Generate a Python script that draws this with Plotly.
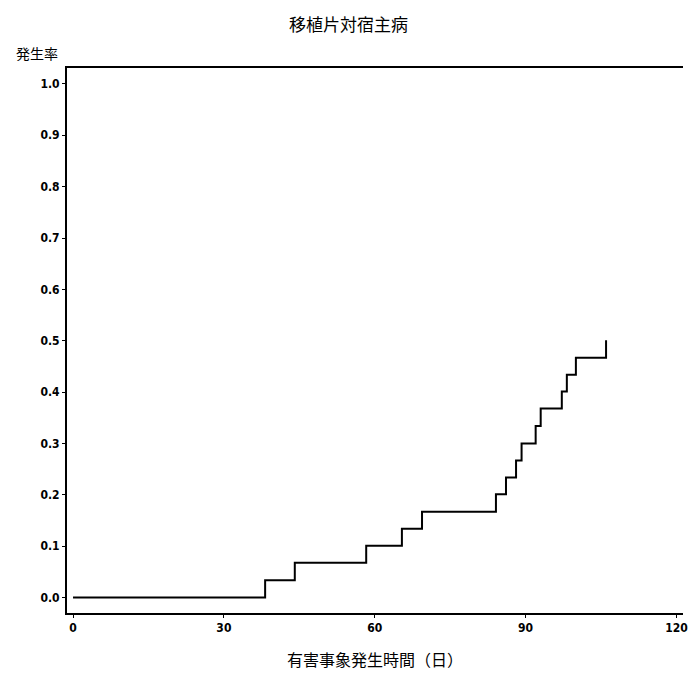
import plotly.graph_objects as go

# Event times (days) and cumulative incidence
times = [0, 38.2, 44.1, 58.3, 65.4, 69.4, 84.1, 86.1, 88.1, 89.2, 92.0, 93.0, 97.2, 98.2, 100.0, 106.0]
incidence = [0.000, 0.034, 0.068, 0.101, 0.134, 0.167, 0.201, 0.234, 0.267, 0.300,
             0.334, 0.368, 0.401, 0.434, 0.467, 0.501]

x_ticks = [0, 30, 60, 90, 120]
y_ticks = [0.0, 0.1, 0.2, 0.3, 0.4, 0.5, 0.6, 0.7, 0.8, 0.9, 1.0]

title_text = "移植片対宿主病"
x_title = "有害事象発生時間（日）"
y_title = "発生率"

cjk = "Noto Sans CJK JP"
tickfont = dict(family="DejaVu Sans Condensed", size=12, color="black")

fig = go.Figure()
fig.add_trace(go.Scatter(
    x=times, y=incidence, mode="lines",
    line=dict(shape="hv", color="black", width=2),
    showlegend=False, hoverinfo="skip",
))

fig.update_layout(
    width=697, height=676,
    margin=dict(l=67, r=14, t=68, b=63, autoexpand=False),
    paper_bgcolor="white", plot_bgcolor="white",
    title=dict(text=title_text, x=0.5, xanchor="center", y=0.963, yanchor="middle",
               font=dict(family=cjk, size=17, color="black")),
    xaxis=dict(
        range=[-1.2, 121.3], tickvals=x_ticks, ticktext=[f"<b>{v}</b>" for v in x_ticks],
        showgrid=False, zeroline=False, showline=True, linecolor="black", linewidth=2,
        mirror=True, ticks="outside", ticklen=3, tickcolor="black",
        tickfont=tickfont, automargin=False,
        title=dict(text=x_title, font=dict(family=cjk, size=16, color="black"), standoff=20),
    ),
    yaxis=dict(
        range=[-0.030, 1.031], tickvals=y_ticks, ticktext=[f"<b>{v:.1f}</b>" for v in y_ticks],
        showgrid=False, zeroline=False, showline=True, linecolor="black", linewidth=2,
        ticks="outside", ticklen=3, tickcolor="black",
        tickfont=tickfont, automargin=False,
    ),
    annotations=[dict(
        text=y_title, xref="paper", yref="paper", x=-0.012, y=1.005,
        xanchor="right", yanchor="bottom", showarrow=False,
        font=dict(family=cjk, size=14, color="black"),
    )],
)

fig.write_html("out.html")
